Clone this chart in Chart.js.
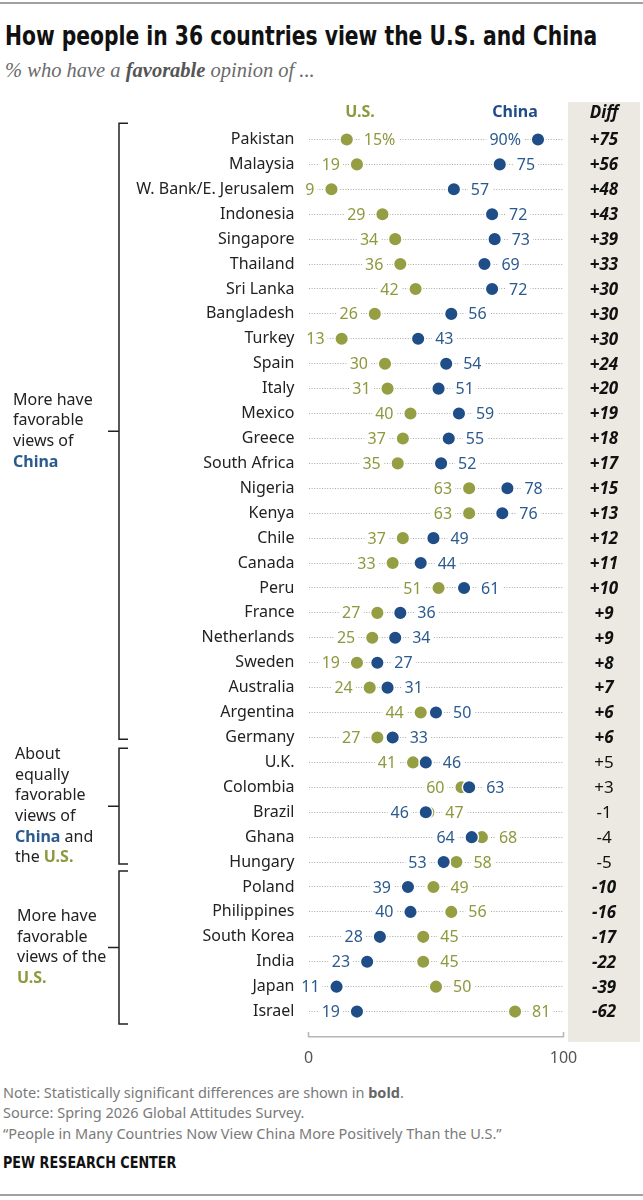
<!DOCTYPE html>
<html>
<head>
<meta charset="utf-8">
<script src="https://cdn.jsdelivr.net/npm/chart.js@4.4.1/dist/chart.umd.min.js"></script>
<style>
  body { margin: 0; background: #fff; width: 643px; height: 1200px; position: relative; overflow: hidden; font-family: 'Noto Sans', sans-serif; }
  .rule { position: absolute; left: 0; width: 643px; height: 2px; background: #a0a0a0; }
  #title { position: absolute; left: 5px; top: 21px; font: bold 26px 'Liberation Sans Narrow', 'DejaVu Sans Condensed', sans-serif; color: #111; white-space: nowrap; transform-origin: 0 0; }
  #sub { position: absolute; left: 5px; top: 59px; font: italic 20.5px 'Liberation Serif', 'DejaVu Serif', serif; color: #6a6a6a; white-space: nowrap; }
  #sub b { color: #555; }
  #wrap { position: absolute; left: 0; top: 95px; width: 643px; height: 972px; }
  .note { position: absolute; left: 3px; font-size: 14.5px; color: #7a7a7a; white-space: nowrap; transform-origin: 0 0; }
  .note b { color: #666; }
  #pew { position: absolute; left: 3px; top: 1153px; font: bold 16px 'Liberation Sans Narrow', 'DejaVu Sans Condensed', sans-serif; color: #111; white-space: nowrap; transform-origin: 0 0; }
</style>
</head>
<body>
<div class="rule" style="top:2px"></div>
<div id="title">How people in 36 countries view the U.S. and China</div>
<div id="sub">% who have a <b>favorable</b> opinion of ...</div>
<div id="wrap"><canvas id="myChart"></canvas></div>
<div class="note" style="top:1082px">Note: Statistically significant differences are shown in <b>bold</b>.</div>
<div class="note" style="top:1102px">Source: Spring 2026 Global Attitudes Survey.</div>
<div class="note" style="top:1123px">“People in Many Countries Now View China More Positively Than the U.S.”</div>
<div id="pew">PEW RESEARCH CENTER</div>
<div class="rule" style="top:1194px"></div>

<script>
const countries = ['Pakistan', 'Malaysia', 'W. Bank/E. Jerusalem', 'Indonesia', 'Singapore', 'Thailand',
  'Sri Lanka', 'Bangladesh', 'Turkey', 'Spain', 'Italy', 'Mexico', 'Greece', 'South Africa', 'Nigeria',
  'Kenya', 'Chile', 'Canada', 'Peru', 'France', 'Netherlands', 'Sweden', 'Australia', 'Argentina',
  'Germany', 'U.K.', 'Colombia', 'Brazil', 'Ghana', 'Hungary', 'Poland', 'Philippines', 'South Korea',
  'India', 'Japan', 'Israel'];
const usFav = [15, 19, 9, 29, 34, 36, 42, 26, 13, 30, 31, 40, 37, 35, 63, 63, 37, 33, 51, 27, 25, 19,
  24, 44, 27, 41, 60, 47, 68, 58, 49, 56, 45, 45, 50, 81];
const chinaFav = [90, 75, 57, 72, 73, 69, 72, 56, 43, 54, 51, 59, 55, 52, 78, 76, 49, 44, 61, 36, 34, 27,
  31, 50, 33, 46, 63, 46, 64, 53, 39, 40, 28, 23, 11, 19];
const diffLabels = ['+75', '+56', '+48', '+43', '+39', '+33', '+30', '+30', '+30', '+24', '+20', '+19',
  '+18', '+17', '+15', '+13', '+12', '+11', '+10', '+9', '+9', '+8', '+7', '+6', '+6', '+5', '+3', '-1',
  '-4', '-5', '-10', '-16', '-17', '-22', '-39', '-62'];
// false = difference not statistically significant (not bold)
const significant = countries.map((c, i) => i < 25 || i > 29);
const xTicks = [0, 100];

const US_DOT = '#969e43', US_TEXT = '#8e983c';
const CN_DOT = '#1f4d87', CN_TEXT = '#2b5a8e';
const FONT = "'Noto Sans', sans-serif";

// squeeze the condensed headings to the reference widths (no narrow font installed)
function fitWidth(id, w) {
  const el = document.getElementById(id);
  el.style.transform = 'scaleX(' + (w / el.offsetWidth) + ')';
}
fitWidth('title', 592);
fitWidth('pew', 173);

// groups of rows with their bracket (in row units) and side label
const groups = [
  { top: -0.65, bottom: 24.07, x: 13, lines: [[['More have']], [['favorable']], [['views of']], [['China', CN_TEXT]]] },
  { top: 24.43, bottom: 29.08, x: 15, lines: [[['About']], [['equally']], [['favorable']], [['views of']], [['China', CN_TEXT], [' and']], [['the '], ['U.S.', US_TEXT]]] },
  { top: 29.36, bottom: 35.5, x: 17, lines: [[['More have']], [['favorable']], [['views of the']], [['U.S.', US_TEXT]]] }
];

Chart.defaults.font.family = FONT;
Chart.defaults.font.size = 16;
Chart.defaults.color = '#222';

function rowLabels(i) {
  const u = usFav[i], c = chinaFav[i];
  const pct = i === 0 ? '%' : '';
  // first row puts its labels between the dots
  const usLeft = i === 0 ? false : u < c;
  const cnLeft = i === 0 ? true : !usLeft;
  return [
    { v: u, text: u + pct, color: US_TEXT, left: usLeft },
    { v: c, text: c + pct, color: CN_TEXT, left: cnLeft }
  ];
}

function eachLabel(chart, fn) {
  const { ctx, scales: { x, y } } = chart;
  ctx.font = '16px ' + FONT;
  countries.forEach((_, i) => {
    const py = y.getPixelForValue(i);
    rowLabels(i).forEach(l => {
      const px = x.getPixelForValue(l.v);
      const w = ctx.measureText(l.text).width;
      const tx = l.left ? px - 17 - w : px + 17;
      fn(ctx, l, tx, py, w);
    });
  });
}

const extras = {
  id: 'extras',
  beforeDraw(chart) {
    const { ctx, scales: { y } } = chart;
    ctx.save();
    ctx.fillStyle = '#ece9e2';
    ctx.fillRect(568, 7, 72, y.getPixelForValue(36.02) + 5 - 7);
    ctx.restore();
  },
  beforeDatasetsDraw(chart) {
    chart.ctx.save();
    eachLabel(chart, (ctx, l, tx, py, w) => {
      ctx.fillStyle = '#fff';
      ctx.fillRect(tx - 3, py - 9, w + 6, 18);
    });
    chart.ctx.restore();
  },
  afterDatasetsDraw(chart) {
    const { ctx, scales: { x, y } } = chart;
    ctx.save();
    ctx.textBaseline = 'middle';
    ctx.textAlign = 'left';
    eachLabel(chart, (ctx, l, tx, py) => {
      ctx.fillStyle = l.color;
      ctx.fillText(l.text, tx, py + 1);
    });

    // headers
    ctx.textAlign = 'center';
    ctx.font = 'bold 16px ' + FONT;
    ctx.fillStyle = US_TEXT;
    ctx.fillText('U.S.', 360, 17);
    ctx.fillStyle = CN_DOT;
    ctx.fillText('China', 515, 17);
    ctx.fillStyle = '#111';
    ctx.font = 'italic bold 17px ' + FONT;
    ctx.fillText('Diff', 604, 18);

    // diff column
    diffLabels.forEach((d, i) => {
      ctx.font = (significant[i] ? 'italic bold ' : '') + '17px ' + FONT;
      ctx.fillText(d, 604, y.getPixelForValue(i) + 1);
    });

    // brackets and group labels
    ctx.strokeStyle = '#222';
    ctx.lineWidth = 1.5;
    groups.forEach(g => {
      const t = y.getPixelForValue(g.top), b = y.getPixelForValue(g.bottom), m = (t + b) / 2;
      ctx.beginPath();
      ctx.moveTo(128, t); ctx.lineTo(119, t); ctx.lineTo(119, b); ctx.lineTo(128, b);
      ctx.moveTo(119, m); ctx.lineTo(108, m);
      ctx.stroke();
      ctx.textAlign = 'left';
      const lh = 20.7;
      g.lines.forEach((line, k) => {
        let lx = g.x;
        const ly = m + (k - (g.lines.length - 1) / 2) * lh;
        line.forEach(([txt, col]) => {
          ctx.font = (col ? 'bold ' : '') + '16px ' + FONT;
          ctx.fillStyle = col || '#222';
          ctx.fillText(txt, lx, ly);
          lx += ctx.measureText(txt).width;
        });
      });
    });

    // small upward end ticks on the axis line
    const ay = y.getPixelForValue(36.02);
    ctx.strokeStyle = '#b5b5b5';
    ctx.beginPath();
    xTicks.forEach(v => {
      const px = x.getPixelForValue(v);
      ctx.moveTo(px, ay); ctx.lineTo(px, ay - 5);
    });
    ctx.stroke();
    ctx.restore();
  }
};

const ctx = document.querySelector('#myChart');
new Chart(ctx, {
  type: 'scatter',
  data: {
    datasets: [{
      label: 'China',
      data: chinaFav.map((v, i) => ({ x: v, y: i })),
      backgroundColor: CN_DOT,
      borderColor: '#fff',
      borderWidth: 1.5,
      pointRadius: 6.8
    }, {
      label: 'U.S.',
      data: usFav.map((v, i) => ({ x: v, y: i })),
      backgroundColor: US_DOT,
      borderColor: '#fff',
      borderWidth: 1.5,
      pointRadius: 6.8
    }]
  },
  options: {
    responsive: true,
    maintainAspectRatio: false,
    animation: false,
    events: [],
    layout: { padding: { left: 0, right: 79.5, top: 32, bottom: 0 } },
    plugins: { legend: { display: false }, tooltip: { enabled: false } },
    scales: {
      x: {
        min: 0,
        max: 100,
        afterBuildTicks: s => { s.ticks = xTicks.map(v => ({ value: v })); },
        afterFit: s => { s.height = 30; },
        grid: { display: false, drawTicks: false },
        border: { color: '#b5b5b5', width: 1.5 },
        ticks: { color: '#555', padding: 12, font: { size: 16 } }
      },
      y: {
        reverse: true,
        min: -0.5,
        max: 36.02,
        afterBuildTicks: s => { s.ticks = countries.map((c, i) => ({ value: i })); },
        afterFit: s => { s.width = 308.5; },
        grid: { color: '#a8a8a8', drawTicks: false },
        border: { display: false, dash: [1, 1.6] },
        ticks: {
          autoSkip: false,
          padding: 14,
          color: '#222',
          callback: v => countries[v]
        }
      }
    }
  },
  plugins: [extras]
});
</script>
</body>
</html>
